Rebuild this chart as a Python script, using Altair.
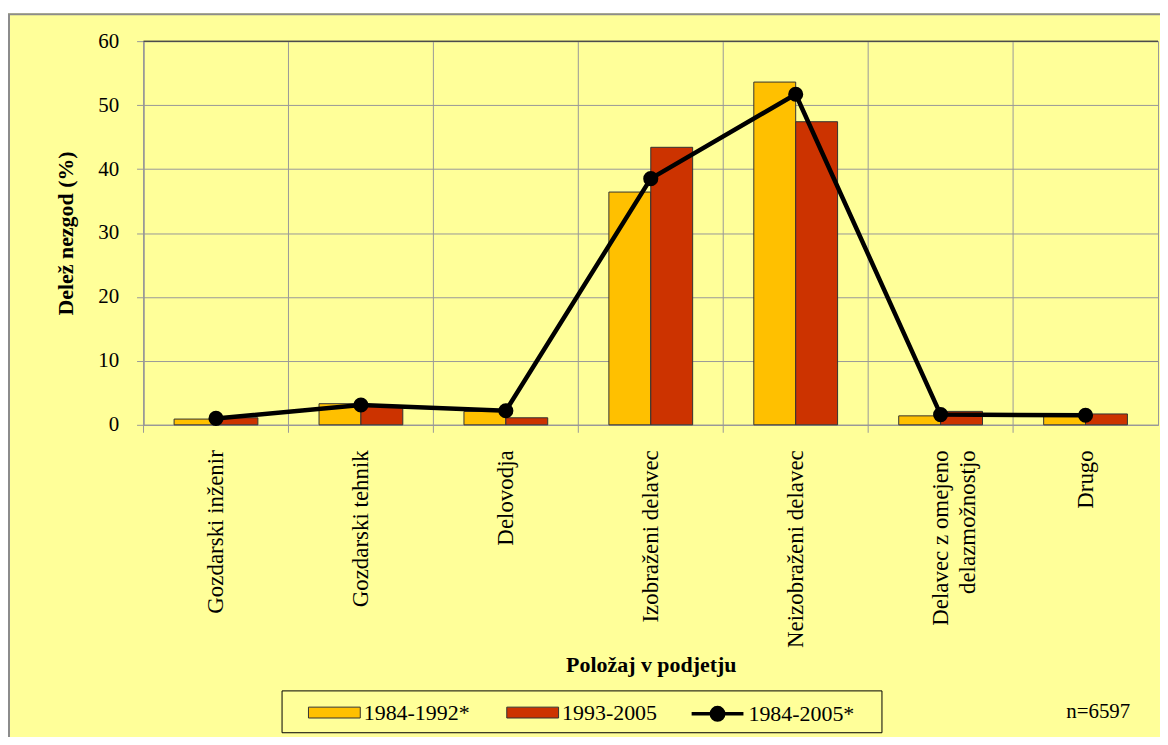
import altair as alt
import pandas as pd

# ---- data ----
categories = [
    "Gozdarski inženir",
    "Gozdarski tehnik",
    "Delovodja",
    "Izobraženi delavec",
    "Neizobraženi delavec",
    "Delavec z omejeno delazmožnostjo",
    "Drugo",
]
periods = ["1984-1992*", "1993-2005", "1984-2005*"]
share_1984_1992 = [0.9, 3.3, 2.1, 36.4, 53.6, 1.4, 1.3]
share_1993_2005 = [1.1, 2.9, 1.1, 43.4, 47.4, 2.1, 1.7]
share_1984_2005 = [1.0, 3.1, 2.2, 38.5, 51.7, 1.6, 1.5]
y_ticks = [0, 10, 20, 30, 40, 50, 60]
note_text = "n=6597"
y_title = "Delež nezgod (%)"
x_title = "Položaj v podjetju"

colors = ["#FFC000", "#CC3300", "#000000"]
FONT = "'Liberation Serif', 'Times New Roman', Times, serif"
GRID = "#999999"

bars_df = pd.DataFrame(
    [{"cat": c, "period": periods[0], "value": v} for c, v in zip(categories, share_1984_1992)]
    + [{"cat": c, "period": periods[1], "value": v} for c, v in zip(categories, share_1993_2005)]
)
line_df = pd.DataFrame({"cat": categories, "value": share_1984_2005, "series": periods[2]})
cat_df = pd.DataFrame({"cat": categories})
one = pd.DataFrame({"a": [0]})

W, H = 1018, 385

x_scale = alt.Scale(domain=categories, paddingInner=0, paddingOuter=0)
x_axis = alt.Axis(
    title=x_title,
    titleFont=FONT, titleFontSize=22, titleFontWeight="bold", titleColor="black",
    titleY=248, titleBaseline="alphabetic",
    labelAngle=270, labelFont=FONT, labelFontSize=23, labelColor="black",
    labelPadding=25, labelLineHeight=27, labelLimit=400,
    labelExpr="datum.value == 'Delavec z omejeno delazmožnostjo' ? ['Delavec z omejeno', 'delazmožnostjo'] : datum.value",
    ticks=False, grid=False, domainColor=GRID,
)
y_scale = alt.Scale(domain=[0, 60], nice=False)
y_axis = alt.Axis(
    title=y_title, values=y_ticks,
    titleFont=FONT, titleFontSize=22, titleFontWeight="bold", titleColor="black",
    titleAngle=270, titleX=-71, titleY=H / 2, titleAlign="center", titleBaseline="alphabetic",
    labelFont=FONT, labelFontSize=21, labelColor="black", labelPadding=18,
    grid=True, gridColor=GRID, domainColor=GRID, tickColor=GRID, tickSize=7,
)

X = alt.X("cat:N", scale=x_scale, axis=x_axis, sort=categories)
Y = alt.Y("value:Q", scale=y_scale, axis=y_axis)

vgrid = alt.Chart(cat_df).mark_rule(color=GRID, strokeWidth=1).encode(
    x=alt.X("cat:N", scale=x_scale, axis=x_axis, sort=categories, bandPosition=0),
    y=alt.value(0), y2=alt.value(H + 8),
)

rect_path = "M-1,-0.21H1V0.21H-1Z"
line_path = "M-1,0H1M-0.24,0A0.24,0.24,0,1,1,0.24,0A0.24,0.24,0,1,1,-0.24,0"

bar_legend = alt.Legend(
    title=None, orient="none", legendX=165, legendY=647, direction="horizontal",
    columns=2, symbolType=rect_path, symbolSize=2704,
    symbolStrokeColor="#333333", symbolStrokeWidth=1, symbolOpacity=1,
    labelFont=FONT, labelFontSize=22, labelColor="black", labelOffset=3,
    columnPadding=34, padding=0,
)
line_legend = alt.Legend(
    title=None, orient="none", legendX=548, legendY=647, direction="horizontal",
    columns=1, symbolType=line_path, symbolSize=2704,
    symbolStrokeColor="black", symbolFillColor="black", symbolStrokeWidth=3.5, symbolOpacity=1,
    labelFont=FONT, labelFontSize=22, labelColor="black", labelOffset=3, padding=0,
)

bars = alt.Chart(bars_df).mark_bar(stroke="#333333", strokeWidth=1).encode(
    x=X,
    xOffset=alt.XOffset("period:N", scale=alt.Scale(domain=periods[:2], paddingInner=0, paddingOuter=0.73)),
    y=Y,
    fill=alt.Fill("period:N", scale=alt.Scale(domain=periods[:2], range=colors[:2]), legend=bar_legend),
)

line = alt.Chart(line_df).mark_line(strokeWidth=4.5).encode(
    x=X, y=Y,
    stroke=alt.Stroke("series:N", scale=alt.Scale(domain=[periods[2]], range=[colors[2]]), legend=line_legend),
)
points = alt.Chart(line_df).mark_circle(color="black", size=230, opacity=1).encode(x=X, y=Y)
top_rule = alt.Chart(one).mark_rule(color="#222222", strokeWidth=1).encode(
    y=alt.datum(60, scale=y_scale)
)

legend_box = alt.Chart(one).mark_rect(fill="transparent", stroke="black", strokeWidth=1).encode(
    x=alt.value(139), x2=alt.value(741), y=alt.value(652), y2=alt.value(694)
)
note = alt.Chart(one).mark_text(font=FONT, fontSize=21, color="black", align="center", baseline="middle").encode(
    x=alt.value(958), y=alt.value(673), text=alt.value(note_text)
)
top_band = alt.Chart(one).mark_rect(fill="white").encode(
    x=alt.value(-140), x2=alt.value(1030), y=alt.value(-40), y2=alt.value(-28)
)
frame = alt.Chart(one).mark_rect(fill="transparent", stroke="#8c8c8c", strokeWidth=2).encode(
    x=alt.value(-135), x2=alt.value(1040), y=alt.value(-27), y2=alt.value(720)
)

chart = alt.layer(
    vgrid, bars, line, points, top_rule, legend_box, note, top_band, frame
).resolve_scale(fill="independent", stroke="independent").properties(
    width=W, height=H,
    autosize=alt.AutoSizeParams(type="none"),
    padding={"left": 136, "top": 32, "right": 2, "bottom": 312},
    background="#FFFF99",
).configure_view(stroke=GRID, strokeWidth=1)

chart.save("out.html", embed_options={"renderer": "svg", "actions": False})
